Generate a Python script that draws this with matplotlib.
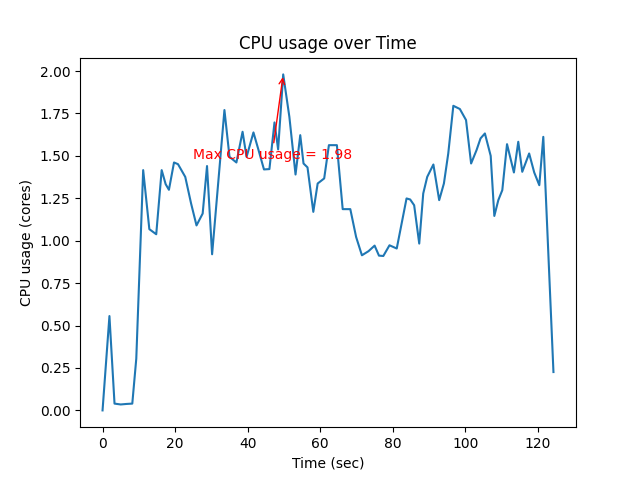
import matplotlib
matplotlib.use("Agg")
import matplotlib.pyplot as plt

times = [0, 1.9, 3.3, 5.0, 6.6, 8.2, 9.3, 11.2, 12.9, 14.8,
         16.3, 17.4, 18.3, 19.7, 20.8, 22.8, 24.4, 25.9, 27.6, 28.8,
         30.2, 33.6, 35.0, 36.9, 38.6, 39.7, 41.6, 43.0, 44.5, 46.0,
         47.4, 48.4, 49.8, 51.5, 53.2, 54.5, 55.4, 56.5, 58.1, 59.3,
         61.1, 62.4, 64.6, 66.2, 68.3, 69.9, 71.5, 73.3, 75.0, 76.2,
         77.4, 79.1, 81.1, 83.8, 84.8, 85.9, 87.3, 88.4, 89.5, 91.2,
         92.8, 94.1, 95.3, 96.7, 98.5, 100.2, 101.6, 103.1, 104.2, 105.4,
         107.0, 108.0, 109.1, 110.2, 111.5, 113.4, 114.6, 115.7, 117.6, 119.0,
         120.4, 121.5, 124.3]
cpu = [0, 0.556, 0.04, 0.035, 0.038, 0.04, 0.305, 1.416, 1.068, 1.038,
       1.416, 1.333, 1.30, 1.461, 1.451, 1.376, 1.22, 1.09, 1.16, 1.44,
       0.92, 1.77, 1.494, 1.461, 1.642, 1.494, 1.638, 1.534, 1.42, 1.422,
       1.697, 1.538, 1.98, 1.73, 1.39, 1.622, 1.455, 1.432, 1.17, 1.337,
       1.367, 1.563, 1.563, 1.186, 1.186, 1.022, 0.914, 0.938, 0.971, 0.912,
       0.910, 0.973, 0.954, 1.249, 1.243, 1.209, 0.983, 1.278, 1.376, 1.449,
       1.239, 1.337, 1.514, 1.795, 1.776, 1.711, 1.455, 1.534, 1.603, 1.632,
       1.50, 1.146, 1.239, 1.298, 1.569, 1.402, 1.583, 1.406, 1.514, 1.402,
       1.327, 1.612, 0.226]

fig = plt.figure(figsize=(6.4, 4.8), dpi=100)
plt.plot(times, cpu)

peak = max(cpu)
peak_t = times[cpu.index(peak)]
plt.annotate(f"Max CPU usage = {peak:.2f}", xy=(peak_t, peak),
             xytext=(peak_t - 25, peak - 0.5), color='red',
             arrowprops=dict(arrowstyle='->', color='red'))

plt.title("CPU usage over Time")
plt.xlabel("Time (sec)")
plt.ylabel("CPU usage (cores)")
plt.savefig("out.png")
